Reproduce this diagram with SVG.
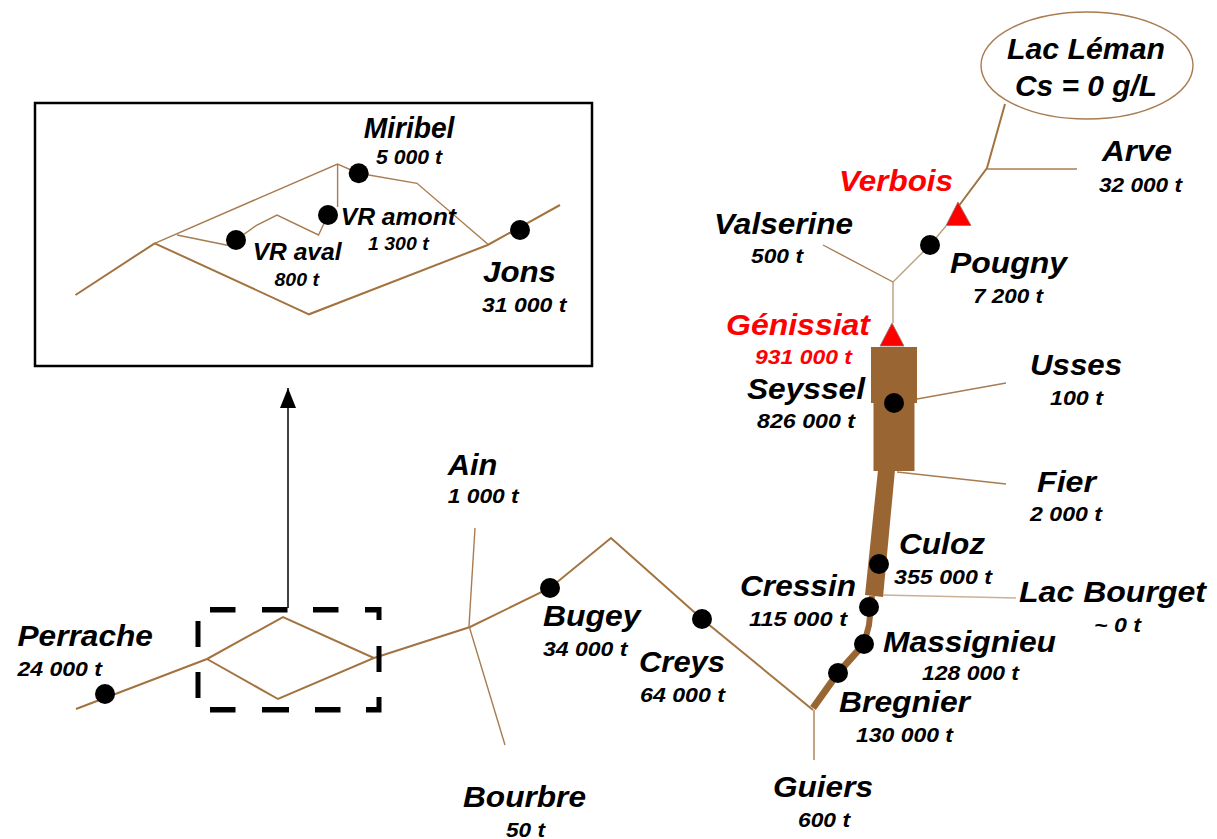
<svg xmlns="http://www.w3.org/2000/svg" width="1217" height="839" viewBox="0 0 1217 839">
<style>
text{font-family:"Liberation Sans",Arial,sans-serif;font-weight:bold;font-style:italic;fill:#000}
.n{font-size:30px}
.v{font-size:20.5px}
.s{font-size:24px}
.t{font-size:18px}
.r{fill:#f00}
.l{fill:none;stroke:#a3733f;stroke-width:2}
.f{fill:none;stroke:#a87c50;stroke-width:1.4}
.w{fill:#996633}
.d{fill:#000}
.tri{fill:#f00;stroke:#8a7a70;stroke-width:.8}
.k{fill:#000}
</style>
<defs>
<marker id="ah" markerUnits="userSpaceOnUse" markerWidth="20" markerHeight="16" refX="20" refY="8" orient="auto" viewBox="0 0 20 16"><path d="M0 0L20 8L0 16Z" fill="#000"/></marker>
</defs>
<g id="connectors">
<ellipse cx="1087" cy="65.5" rx="106" ry="53.5" class="f"/>
<path class="l" d="M1005 104L987 168L958 207"/>
<path class="f" d="M987 169L1077 169"/>
<path class="f" stroke-opacity=".75" d="M946 226L930 245L893 282L893 323"/>
<path class="f" d="M823 245L893 282"/>
<path class="f" d="M917 399L1006 383"/>
<path class="f" d="M897 472L1006 484"/>
<path class="f" stroke-opacity=".6" d="M882 595L1016 598"/>
<rect class="w" x="871" y="347" width="46" height="56"/>
<rect class="w" x="873.500" y="403" width="41" height="68"/>
<path class="w" d="M878 470L895 470L883 597L865 595Z"/>
<path fill="none" stroke="#996633" stroke-width="6" d="M872 596L869 625L864 644"/>
<path fill="none" stroke="#996633" stroke-width="7" d="M864 644L838 673L813 708"/>
<path class="l" d="M702 619L813 710"/>
<path class="f" d="M814 710L814 760"/>
<path class="l" d="M76 709L207 659L283 617L374 658L278 699L207 659M374 658L470 627L550 588L611 538L702 619"/>
<path class="f" d="M475 528L469 626L505 745"/>
<path class="k" d="M210 607h25.500v5.500h-25.500zM262 607h25.500v5.500h-25.500zM313 607h25.500v5.500h-25.500zM365 607h16v5.500h-16zM210 707h25.500v5.500h-25.500zM262 707h27v5.500h-27zM315 707h25.500v5.500h-25.500zM366 707h15.500v5.500h-15.500zM195.500 621h5v26h-5zM195.500 672h5v26h-5zM376.500 607h5v13h-5zM376.500 646h5v26h-5zM376.500 697h5v15h-5z"/>
<path stroke="#000" stroke-width="1.500" fill="none" marker-end="url(#ah)" d="M288 608L288 388"/>
<rect x="35" y="103" width="557" height="263" fill="none" stroke="#000" stroke-width="2.500"/>
<path class="l" d="M75.500 295L154.700 243.300L309 314.300L487.700 245L560 205"/>
<path class="f" d="M154.700 243.300L337.600 164L358.700 173.300L417 183.300L487.700 244M177 235L236 247M236 240L257 225L277 215L318.500 235L328 215M337.600 164L337.600 207"/>
</g>
<g id="lac-leman"><text class="n" x="1007" y="59" textLength="158" lengthAdjust="spacingAndGlyphs">Lac Léman</text><text class="n" x="1015" y="96" textLength="142" lengthAdjust="spacingAndGlyphs">Cs = 0 g/L</text></g>
<g id="arve"><text class="n" x="1102" y="161" textLength="70" lengthAdjust="spacingAndGlyphs">Arve</text><text class="v" x="1099" y="191.700" textLength="83" lengthAdjust="spacingAndGlyphs">32 000 t</text></g>
<g id="verbois"><polygon class="tri" points="958,202 946,225.500 971,225.500"/><text class="n r" x="839" y="191" textLength="114" lengthAdjust="spacingAndGlyphs">Verbois</text></g>
<g id="valserine"><text class="n" x="714" y="234" textLength="139" lengthAdjust="spacingAndGlyphs">Valserine</text><text class="v" x="751" y="263" textLength="52" lengthAdjust="spacingAndGlyphs">500 t</text></g>
<g id="pougny"><circle class="d" cx="930" cy="245" r="10"/><text class="n" x="950" y="273" textLength="117" lengthAdjust="spacingAndGlyphs">Pougny</text><text class="v" x="973" y="303" textLength="70" lengthAdjust="spacingAndGlyphs">7 200 t</text></g>
<g id="genissiat"><polygon class="tri" points="892,323 880,346 904,346"/><text class="n r" x="726" y="335" textLength="144" lengthAdjust="spacingAndGlyphs">Génissiat</text><text class="v r" x="755" y="364" textLength="97" lengthAdjust="spacingAndGlyphs">931 000 t</text></g>
<g id="seyssel"><circle class="d" cx="894" cy="403" r="10"/><text class="n" x="747" y="399" textLength="118" lengthAdjust="spacingAndGlyphs">Seyssel</text><text class="v" x="757" y="428" textLength="98" lengthAdjust="spacingAndGlyphs">826 000 t</text></g>
<g id="usses"><text class="n" x="1030" y="375" textLength="92" lengthAdjust="spacingAndGlyphs">Usses</text><text class="v" x="1050" y="405" textLength="53" lengthAdjust="spacingAndGlyphs">100 t</text></g>
<g id="fier"><text class="n" x="1037" y="492" textLength="59" lengthAdjust="spacingAndGlyphs">Fier</text><text class="v" x="1030" y="520.700" textLength="72" lengthAdjust="spacingAndGlyphs">2 000 t</text></g>
<g id="culoz"><circle class="d" cx="879" cy="564" r="10"/><text class="n" x="899" y="554" textLength="86" lengthAdjust="spacingAndGlyphs">Culoz</text><text class="v" x="894" y="584" textLength="98" lengthAdjust="spacingAndGlyphs">355 000 t</text></g>
<g id="cressin"><circle class="d" cx="869" cy="607" r="10"/><text class="n" x="740" y="596" textLength="116" lengthAdjust="spacingAndGlyphs">Cressin</text><text class="v" x="749" y="626" textLength="98" lengthAdjust="spacingAndGlyphs">115 000 t</text></g>
<g id="lac-bourget"><text class="n" x="1019" y="601.700" textLength="187" lengthAdjust="spacingAndGlyphs">Lac Bourget</text><text class="v" x="1094" y="631.700" textLength="47" lengthAdjust="spacingAndGlyphs">~ 0 t</text></g>
<g id="massignieu"><circle class="d" cx="864" cy="644" r="10"/><text class="n" x="883" y="651.700" textLength="173" lengthAdjust="spacingAndGlyphs">Massignieu</text><text class="v" x="922" y="680" textLength="97" lengthAdjust="spacingAndGlyphs">128 000 t</text></g>
<g id="bregnier"><circle class="d" cx="838" cy="673" r="10"/><text class="n" x="839" y="711.700" textLength="131" lengthAdjust="spacingAndGlyphs">Bregnier</text><text class="v" x="856" y="741.700" textLength="97" lengthAdjust="spacingAndGlyphs">130 000 t</text></g>
<g id="guiers"><text class="n" x="773" y="796.700" textLength="100" lengthAdjust="spacingAndGlyphs">Guiers</text><text class="v" x="798" y="826.700" textLength="52" lengthAdjust="spacingAndGlyphs">600 t</text></g>
<g id="creys"><circle class="d" cx="702" cy="619" r="10"/><text class="n" x="639" y="671.700" textLength="86" lengthAdjust="spacingAndGlyphs">Creys</text><text class="v" x="640" y="701.700" textLength="85" lengthAdjust="spacingAndGlyphs">64 000 t</text></g>
<g id="bugey"><circle class="d" cx="550" cy="588" r="10"/><text class="n" x="543" y="626" textLength="97.500" lengthAdjust="spacingAndGlyphs">Bugey</text><text class="v" x="543" y="656" textLength="84.500" lengthAdjust="spacingAndGlyphs">34 000 t</text></g>
<g id="ain"><text class="n" x="447.700" y="475" textLength="49.500" lengthAdjust="spacingAndGlyphs">Ain</text><text class="v" x="447.700" y="503" textLength="71" lengthAdjust="spacingAndGlyphs">1 000 t</text></g>
<g id="bourbre"><text class="n" x="463" y="806.700" textLength="123" lengthAdjust="spacingAndGlyphs">Bourbre</text><text class="v" x="506" y="836.700" textLength="39" lengthAdjust="spacingAndGlyphs">50 t</text></g>
<g id="perrache"><circle class="d" cx="105" cy="694" r="10"/><text class="n" x="17.400" y="646" textLength="135.600" lengthAdjust="spacingAndGlyphs">Perrache</text><text class="v" x="17.400" y="676" textLength="84.600" lengthAdjust="spacingAndGlyphs">24 000 t</text></g>
<g id="miribel"><circle class="d" cx="358.700" cy="173.300" r="10"/><text class="n" x="363.700" y="137.700" textLength="90.700" lengthAdjust="spacingAndGlyphs">Miribel</text><text class="v" x="376" y="164" textLength="66" lengthAdjust="spacingAndGlyphs">5 000 t</text></g>
<g id="vr-amont"><circle class="d" cx="328" cy="215" r="10"/><text class="s" x="340.700" y="225" textLength="115.300" lengthAdjust="spacingAndGlyphs">VR amont</text><text class="t" x="368" y="250" textLength="60.700" lengthAdjust="spacingAndGlyphs">1 300 t</text></g>
<g id="vr-aval"><circle class="d" cx="236" cy="240" r="10"/><text class="s" x="252.700" y="260" textLength="88.800" lengthAdjust="spacingAndGlyphs">VR aval</text><text class="t" x="274.500" y="285.700" textLength="44.500" lengthAdjust="spacingAndGlyphs">800 t</text></g>
<g id="jons"><circle class="d" cx="520" cy="230" r="10"/><text class="n" x="483" y="281.700" textLength="73" lengthAdjust="spacingAndGlyphs">Jons</text><text class="v" x="482" y="312" textLength="84.500" lengthAdjust="spacingAndGlyphs">31 000 t</text></g>
</svg>
